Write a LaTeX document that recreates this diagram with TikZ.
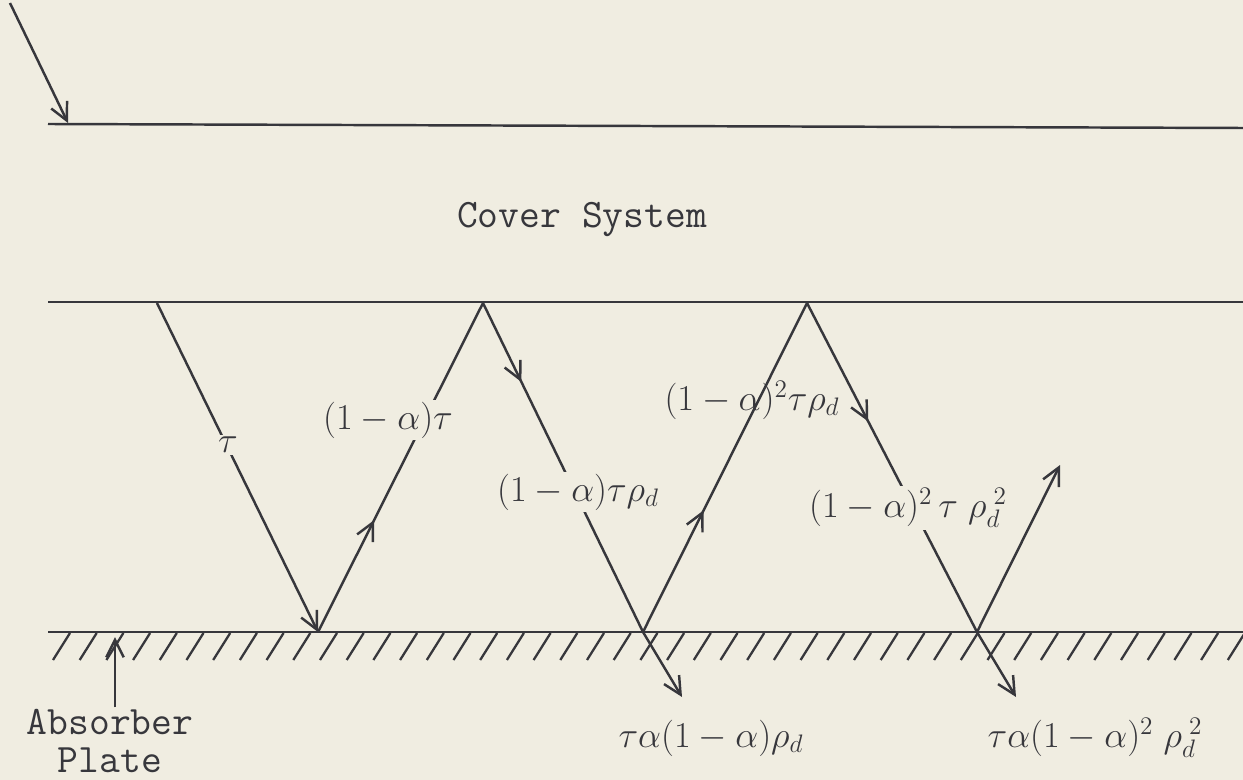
\documentclass[tikz,border=0pt]{standalone}
\usepackage{amsmath}
\usetikzlibrary{arrows.meta,decorations.markings}
\definecolor{paper}{RGB}{240,237,225}
\definecolor{ink}{RGB}{55,55,60}

\begin{document}
\begin{tikzpicture}[x=0.02cm,y=-0.02cm,>={Straight Barb[length=10pt,width=10pt]},
  ray/.style={ink,line width=1.4pt},
  midarrow/.style={postaction={decorate},decoration={markings,mark=at position #1 with {\arrow{>}}}},
  lbl/.style={font=\fontsize{20}{24}\selectfont,text=ink,fill=paper,inner sep=1pt},
  typed/.style={font=\fontsize{23}{21.5}\selectfont\ttfamily,text=ink,align=center,inner sep=1pt}]
  \fill[paper] (0,0) rectangle (1243,780);
  \useasboundingbox (0,0) rectangle (1243,780);
  % cover surfaces and absorber plate
  \draw[ray] (48,124) -- (1243,128);
  \draw[ray] (48,302) -- (1243,302);
  \draw[ray] (48,632) -- (1243,632);
  \foreach \xx in {53,79.7,...,1230}
    \draw[ink,line width=1.3pt] (\xx,660) -- ++(17,-27);
  % points where the rays meet the surfaces
  \coordinate (sun) at (10,3);
  \coordinate (c0) at (68,123);
  \coordinate (t1) at (157,303);
  \coordinate (t2) at (483,303);
  \coordinate (t3) at (807,303);
  \coordinate (b1) at (318,632);
  \coordinate (b2) at (643,632);
  \coordinate (b3) at (977,632);
  \coordinate (out) at (1060,465);
  \coordinate (in1) at (682,697);
  \coordinate (in2) at (1016,697);
  \coordinate (pin) at (115,637);
  % rays
  \draw[ray,->] (sun) -- (c0);
  \draw[ray,->] (t1) -- (b1);
  \draw[ray,midarrow=0.34] (b1) -- (t2);
  \draw[ray,midarrow=0.24] (t2) -- (b2);
  \draw[ray,midarrow=0.37] (b2) -- (t3);
  \draw[ray,midarrow=0.36] (t3) -- (b3);
  \draw[ray,->] (b3) -- (out);
  \draw[ray,->] (b2) -- (in1);
  \draw[ray,->] (b3) -- (in2);
  % labels
  \node[lbl] (tau) at (228,445) {$\tau$};
  \node[lbl] (r1) at (388,420) {$(1-\alpha)\tau$};
  \node[lbl] (r2) at (578,492) {$(1-\alpha)\tau\rho_d$};
  \node[lbl,fill=none] (r3) at (752,400) {$(1-\alpha)^2\tau\rho_d$};
  \node[lbl] (r4) at (908,508) {$(1-\alpha)^2\,\tau\;\rho_d^{\;2}$};
  \node[lbl,fill=none] (a1) at (711,738) {$\tau\alpha(1-\alpha)\rho_d$};
  \node[lbl,fill=none] (a2) at (1095,738) {$\tau\alpha(1-\alpha)^2\;\rho_d^{\;2}$};
  \node[typed] (cover) at (582,220) {Cover System};
  \node[typed] (plate) at (110,741) {Absorber\\Plate};
  \draw[ray,->] (pin |- plate.north) -- (pin);
\end{tikzpicture}
\end{document}
